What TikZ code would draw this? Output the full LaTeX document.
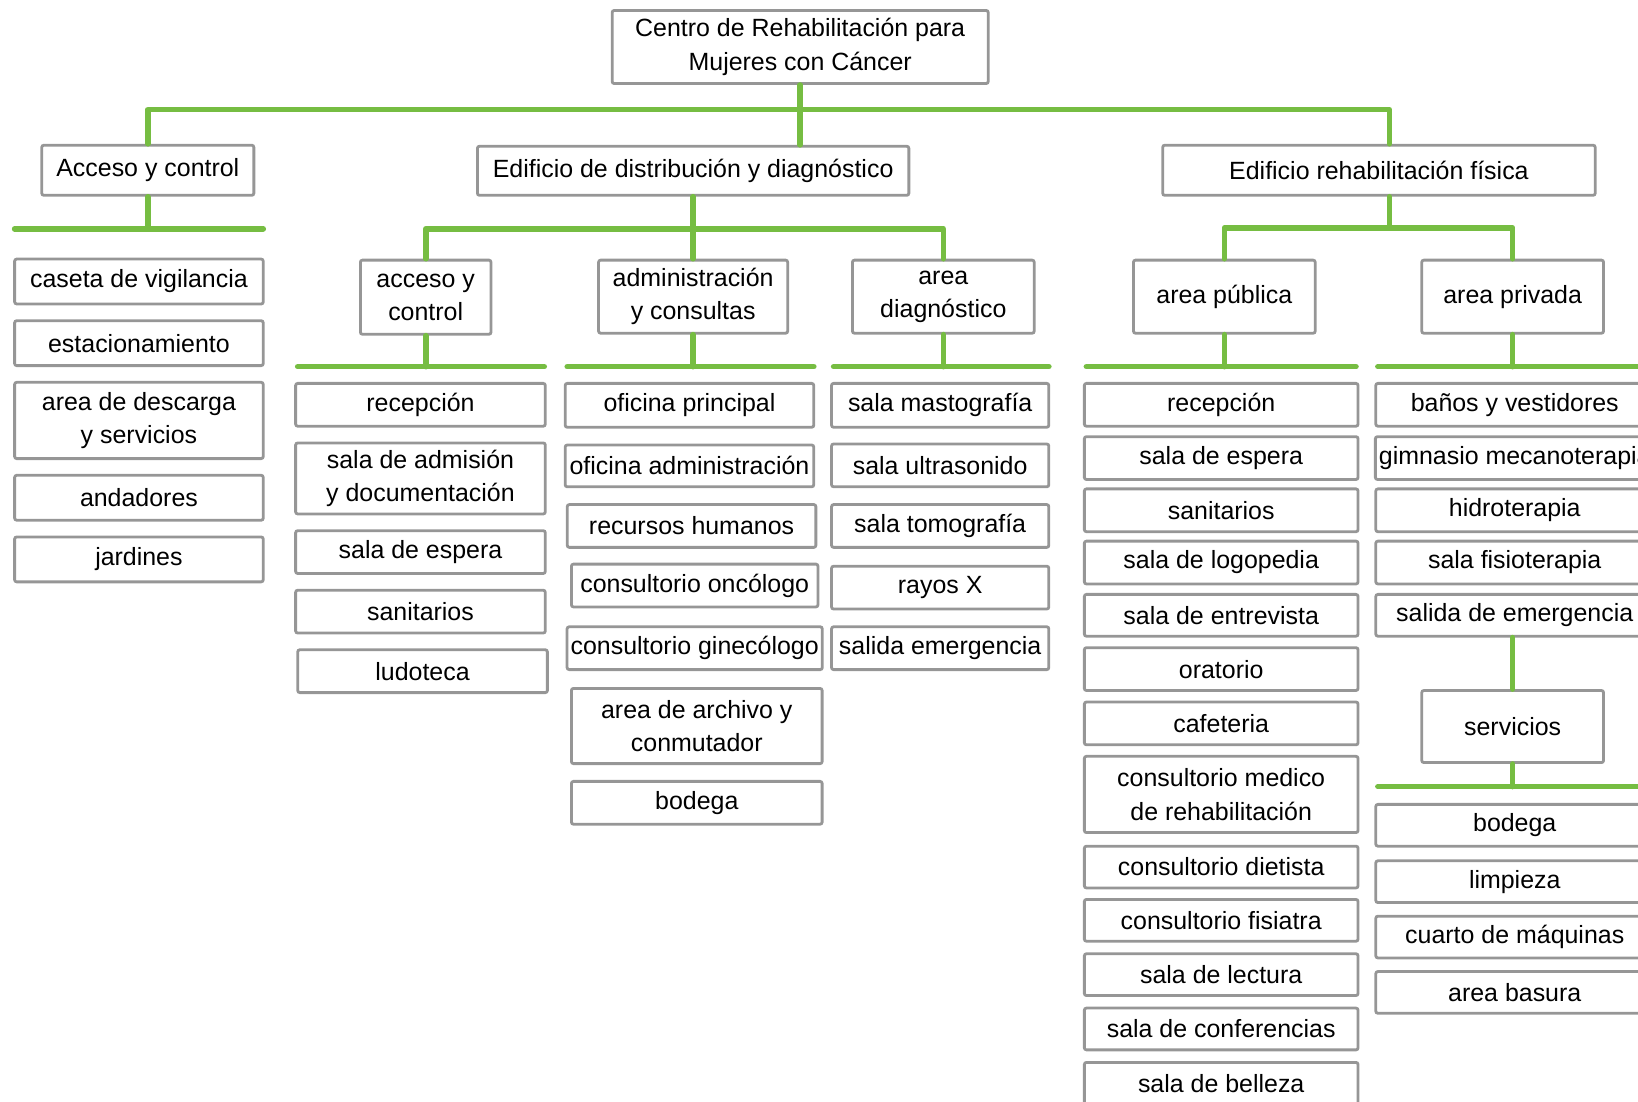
\documentclass[tikz,border=0pt]{standalone}
\usepackage{fontspec}
\setmainfont{Liberation Sans}
\definecolor{leaf}{RGB}{118,189,66}
\definecolor{frame}{RGB}{150,150,150}
\newcommand{\pxu}{0.010446cm}

\begin{document}
\begin{tikzpicture}[
	x=\pxu,
	y=-\pxu,
	room/.style 2 args={draw=frame, line width=0.8pt, rounded corners=0.6pt, fill=white, inner sep=1pt, align=center, minimum width=#1*\pxu, minimum height=#2*\pxu, font=\fontsize{7.1}{9.5}\selectfont},
	link/.style={draw=leaf, line width=1.6pt, line cap=round, line join=round}
	]
	\useasboundingbox (0,0) rectangle (1568,1054);
	\clip (0,0) rectangle (1568,1054);

	\node[room={360}{70}] (top) at (766,45) {Centro de Rehabilitación para\\Mujeres con Cáncer};
	\node[room={203}{48}] (acc) at (141.5,163) {Acceso y control};
	\node[room={413}{47}] (dist) at (663.5,163.5) {Edificio de distribución y diagnóstico};
	\node[room={414}{48}] (rehab) at (1320,163) {Edificio rehabilitación física};

	\node[room={238}{43}] (c1) at (133,269.5) {caseta de vigilancia};
	\node[room={238}{43}] (c2) at (133,328.5) {estacionamiento};
	\node[room={238}{73}] (c3) at (133,402.5) {area de descarga\\y servicios};
	\node[room={238}{43}] (c4) at (133,476.5) {andadores};
	\node[room={238}{43}] (c5) at (133,535.5) {jardines};

	\node[room={125}{71}] (accB) at (407.5,284.5) {acceso y\\control};
	\node[room={181}{70}] (adm) at (663.5,284) {administración\\y consultas};
	\node[room={174}{70}] (diag) at (903,284) {area\\diagnóstico};

	\node[room={239}{41}] (a1) at (402.5,387.5) {recepción};
	\node[room={239}{68}] (a2) at (402.5,458) {sala de admisión\\y documentación};
	\node[room={239}{41}] (a3) at (402.5,528.5) {sala de espera};
	\node[room={239}{41}] (a4) at (402.5,585.5) {sanitarios};
	\node[room={239}{41}] (a5) at (404.5,642.5) {ludoteca};

	\node[room={238}{42}] (d1) at (660,388) {oficina principal};
	\node[room={238}{40}] (d2) at (660,446) {oficina administración};
	\node[room={238}{41}] (d3) at (662,503.5) {recursos humanos};
	\node[room={236}{41}] (d4) at (665,560.5) {consultorio oncólogo};
	\node[room={240}{41}] (d5) at (665,620.5) {consultorio ginecólogo};
	\node[room={240}{72}] (d6) at (667,695) {area de archivo y\\conmutador};
	\node[room={240}{41}] (d7) at (667,768.5) {bodega};

	\node[room={208}{42}] (g1) at (900,388) {sala mastografía};
	\node[room={208}{41}] (g2) at (900,445.5) {sala ultrasonido};
	\node[room={208}{41}] (g3) at (900,503.5) {sala tomografía};
	\node[room={208}{41}] (g4) at (900,562.5) {rayos X};
	\node[room={208}{41}] (g5) at (900,620.5) {salida emergencia};

	\node[room={174}{70}] (apub) at (1172,284) {area pública};
	\node[room={174}{70}] (apriv) at (1448,284) {area privada};

	\node[room={262}{41}] (p1) at (1169,387.5) {recepción};
	\node[room={262}{41}] (p2) at (1169,438.5) {sala de espera};
	\node[room={262}{41}] (p3) at (1169,488.5) {sanitarios};
	\node[room={262}{41}] (p4) at (1169,538.5) {sala de logopedia};
	\node[room={262}{40}] (p5) at (1169,589) {sala de entrevista};
	\node[room={262}{41}] (p6) at (1169,640.5) {oratorio};
	\node[room={262}{41}] (p7) at (1169,692.5) {cafeteria};
	\node[room={262}{73}] (p8) at (1169,760.5) {consultorio medico\\de rehabilitación};
	\node[room={262}{40}] (p9) at (1169,830) {consultorio dietista};
	\node[room={262}{40}] (p10) at (1169,881) {consultorio fisiatra};
	\node[room={262}{40}] (p11) at (1169,933) {sala de lectura};
	\node[room={262}{40}] (p12) at (1169,985) {sala de conferencias};
	\node[room={262}{41}] (p13) at (1169,1037.5) {sala de belleza};

	\node[room={266}{41}] (q1) at (1450,387.5) {baños y vestidores};
	\node[room={266}{41}] (q2) at (1450,438.5) {gimnasio mecanoterapia};
	\node[room={266}{41}] (q3) at (1450,488.5) {hidroterapia};
	\node[room={266}{41}] (q4) at (1450,538.5) {sala fisioterapia};
	\node[room={266}{40}] (q5) at (1450,589) {salida de emergencia};
	\node[room={174}{69}] (serv) at (1448,695.5) {servicios};
	\node[room={266}{40}] (q6) at (1450,790) {bodega};
	\node[room={266}{40}] (q7) at (1450,844) {limpieza};
	\node[room={266}{40}] (q8) at (1450,897) {cuarto de máquinas};
	\node[room={266}{40}] (q9) at (1450,950) {area basura};

	\coordinate (trunk) at (1330,105);
	\coordinate (splitB) at (0,219);
	\coordinate (splitC) at (0,218);
	\coordinate (barAw) at (14,219);
	\coordinate (barAe) at (252,219);
	\coordinate (barB1w) at (285,351);
	\coordinate (barB1e) at (521,351);
	\coordinate (barB2w) at (543,351);
	\coordinate (barB2e) at (779,351);
	\coordinate (barB3w) at (798,351);
	\coordinate (barB3e) at (1004,351);
	\coordinate (barC1w) at (1040,351);
	\coordinate (barC1e) at (1298,351);
	\coordinate (barC2w) at (1319,351);
	\coordinate (barC2e) at (1600,351);
	\coordinate (barSw) at (1319,753);
	\coordinate (barSe) at (1600,753);

	\draw[link] (acc.north) |- (trunk) -- (trunk |- rehab.north);
	\draw[link] (top) -- (top |- dist.north);

	\draw[link] (barAw) -- (barAe);
	\draw[link] (acc) -- (acc |- barAw);

	\draw[link] (accB.north) -- (accB.north |- splitB) -- (diag.north |- splitB) -- (diag.north);
	\draw[link] (dist) -- (adm);
	\draw[link] (barB1w) -- (barB1e);
	\draw[link] (accB) -- (accB |- barB1w);
	\draw[link] (barB2w) -- (barB2e);
	\draw[link] (adm) -- (adm |- barB2w);
	\draw[link] (barB3w) -- (barB3e);
	\draw[link] (diag) -- (diag |- barB3w);

	\draw[link] (trunk |- rehab.south) -- (trunk |- splitC);
	\draw[link] (apub.north) -- (apub.north |- splitC) -- (apriv.north |- splitC) -- (apriv.north);
	\draw[link] (barC1w) -- (barC1e);
	\draw[link] (apub) -- (apub |- barC1w);
	\draw[link] (barC2w) -- (barC2e);
	\draw[link] (apriv) -- (apriv |- barC2w);

	\draw[link] (serv.north |- q5.south) -- (serv.north);
	\draw[link] (barSw) -- (barSe);
	\draw[link] (serv) -- (serv |- barSw);
\end{tikzpicture}
\end{document}
